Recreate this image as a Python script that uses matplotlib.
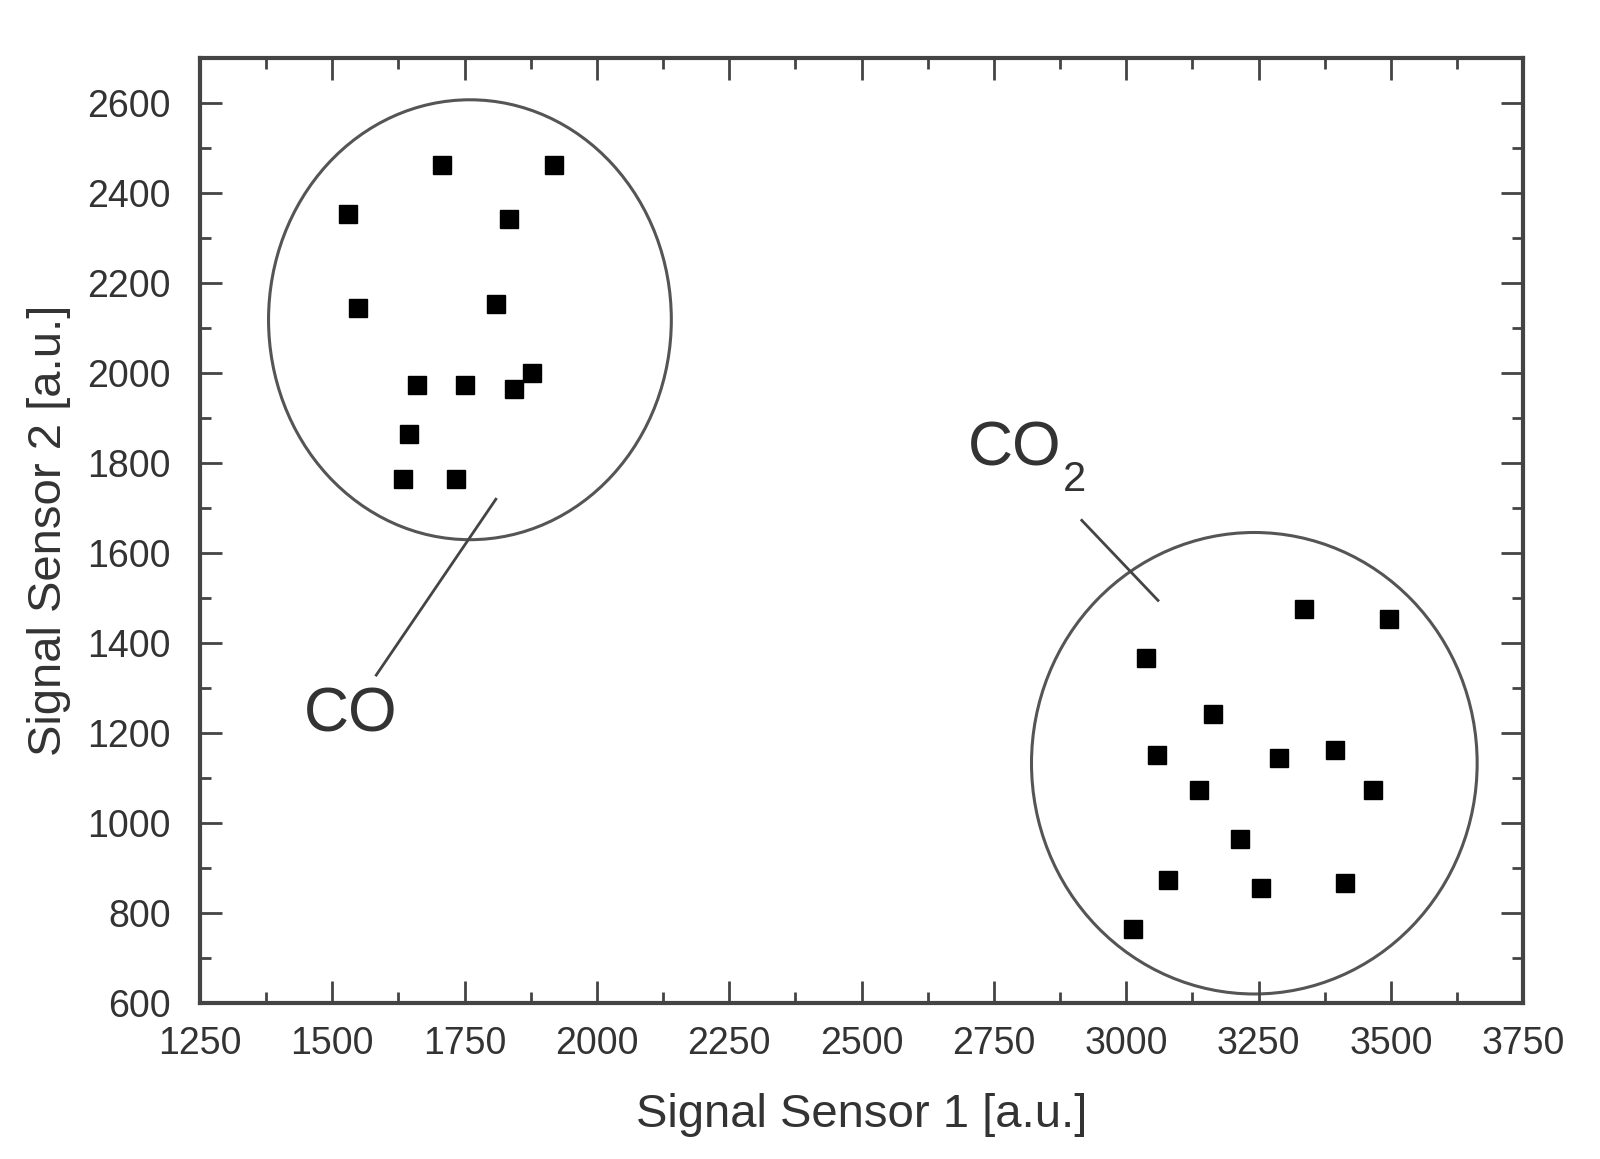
import numpy as np
import matplotlib
matplotlib.use('Agg')
import matplotlib.pyplot as plt
from matplotlib.patches import Ellipse
from matplotlib.ticker import MultipleLocator

plt.rcParams['font.family'] = ['Liberation Sans', 'DejaVu Sans']

# CO cluster
co_x = [1529, 1708, 1918, 1834, 1549, 1809, 1660, 1751, 1843, 1878, 1645, 1633, 1733]
co_y = [2354, 2463, 2463, 2341, 2143, 2152, 1972, 1974, 1963, 1999, 1863, 1765, 1765]

# CO2 cluster
co2_x = [3336, 3496, 3037, 3163, 3059, 3288, 3394, 3138, 3467, 3215, 3078, 3255, 3413, 3012]
co2_y = [1474, 1453, 1365, 1242, 1151, 1144, 1162, 1073, 1073, 964, 873, 855, 866, 764]

# cluster ellipses: centre, width, height
co_ell = (1760, 2118, 761, 978)
co2_ell = (3242, 1132, 842, 1026)

fig = plt.figure(figsize=(16, 11.59), dpi=100)
ax = fig.add_axes([0.125, 0.135, 0.827, 0.815])

ax.plot(co_x, co_y, 's', color='black', markersize=13, zorder=5)
ax.plot(co2_x, co2_y, 's', color='black', markersize=13, zorder=5)

for cx, cy, w, h in [co_ell, co2_ell]:
    ax.add_patch(Ellipse((cx, cy), w, h, fill=False, edgecolor='#555555', linewidth=2.2))

# labels with pointer lines
ax.plot([1583, 1809], [1328, 1719], color='#444444', lw=2)
ax.text(1535, 1240, 'CO', fontsize=45, color='#333333', ha='center', va='center')
ax.plot([2916, 3060], [1672, 1494], color='#444444', lw=2)
ax.text(2700, 1830, 'CO', fontsize=45, color='#333333', ha='left', va='center')
ax.text(2880, 1762, '2', fontsize=30, color='#333333', ha='left', va='center')

ax.set_xlim(1250, 3750)
ax.set_ylim(600, 2700)
ax.xaxis.set_major_locator(MultipleLocator(250))
ax.xaxis.set_minor_locator(MultipleLocator(125))
ax.yaxis.set_major_locator(MultipleLocator(200))
ax.yaxis.set_minor_locator(MultipleLocator(100))
ax.set_yticks(np.arange(600, 2601, 200))

ax.tick_params(which='both', direction='in', top=True, right=True,
               color='#444444', labelcolor='#333333', width=2)
ax.tick_params(which='major', length=16, labelsize=27)
ax.tick_params(which='minor', length=8)
ax.tick_params(axis='x', pad=17)
ax.tick_params(axis='y', pad=21)

for s in ax.spines.values():
    s.set_linewidth(3)
    s.set_color('#444444')

ax.set_xlabel('Signal Sensor 1 [a.u.]', fontsize=34, color='#333333', labelpad=22)
ax.set_ylabel('Signal Sensor 2 [a.u.]', fontsize=34, color='#333333', labelpad=12)

plt.savefig('out.png', dpi=100)
